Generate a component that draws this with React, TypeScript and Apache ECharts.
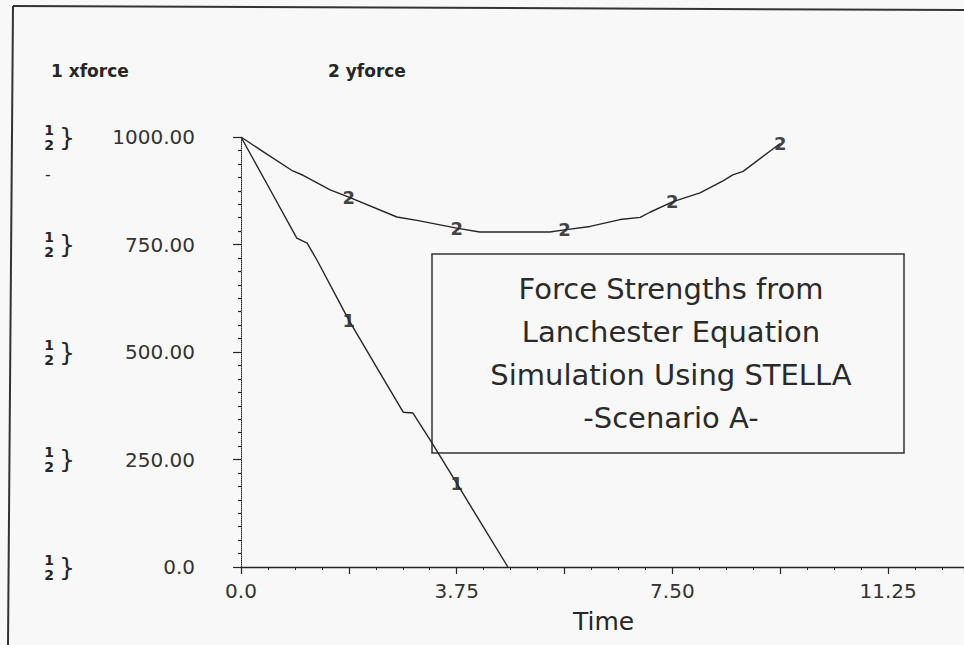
import React, { useEffect, useRef } from "react";
import * as echarts from "echarts";

const times1 = [0, 0.5, 0.97, 1.15, 1.32, 1.875, 2.4, 2.82, 2.99, 3.29, 3.75, 4.2, 4.64];
const xforce = [1000, 879, 765, 753, 714, 574, 455, 360, 358, 295, 195, 96, 0];
const times2 = [0, 0.45, 0.9, 1.08, 1.55, 1.875, 2.71, 3.06, 3.75, 4.15, 5.37, 5.625, 6.07, 6.59, 6.94, 7.11, 7.5, 7.98, 8.38, 8.55, 8.73, 9.375];
const yforce = [1000, 960, 921, 911, 877, 860, 814, 806, 788, 779, 779, 784, 792, 808, 813, 825, 849, 870, 898, 912, 920, 985];

const xTickValues = [0, 3.75, 7.5, 11.25];
const xTickLabels = ["0.0", "3.75", "7.50", "11.25"];
const yTickValues = [0, 250, 500, 750, 1000];
const yTickLabels = ["0.0", "250.00", "500.00", "750.00", "1000.00"];
const legendNames = ["1 xforce", "2 yforce"];
const boxLines = ["Force Strengths from", "Lanchester Equation", "Simulation Using STELLA", "-Scenario A-"];
const xAxisTitle = "Time";
const labelStep = 1.875;
const xVisibleMax = 12.57;

const INK = "#262626";
const FONT = "'DejaVu Sans', sans-serif";

function pick(v: number, vals: number[], labels: string[]) {
  for (let i = 0; i < vals.length; i++) if (Math.abs(v - vals[i]) < 1e-6) return labels[i];
  return "";
}

function pairs(ts: number[], vs: number[]) {
  return ts.map((t, i) => [t, vs[i]]);
}

function markerPoints(ts: number[], vs: number[]) {
  const out: number[][] = [];
  ts.forEach((t, i) => {
    const k = t / labelStep;
    if (t > 0 && Math.abs(k - Math.round(k)) < 1e-6) out.push([t, vs[i]]);
  });
  return out;
}

export default function App() {
  const ref = useRef<HTMLDivElement>(null);
  useEffect(() => {
    if (!ref.current) return;
    const chart = echarts.init(ref.current, undefined, { renderer: "svg" });
    const yBase = { type: "value", min: 0, max: 1000, interval: 250, splitLine: { show: false } };
    const option: any = {
      animation: false,
      backgroundColor: "#f8f8f8",
      grid: { left: 241, top: 137, bottom: 78, right: 0, containLabel: false },
      legend: [
        {
          data: ["xforce"], left: 41, top: 57, icon: "none", itemWidth: 0, itemHeight: 0,
          selectedMode: false, formatter: () => legendNames[0],
          textStyle: { fontFamily: FONT, fontSize: 17, fontWeight: "bold", color: INK },
        },
        {
          data: ["yforce"], left: 318, top: 57, icon: "none", itemWidth: 0, itemHeight: 0,
          selectedMode: false, formatter: () => legendNames[1],
          textStyle: { fontFamily: FONT, fontSize: 17, fontWeight: "bold", color: INK },
        },
      ],
      title: {
        text: xAxisTitle, left: 568, top: 604,
        textStyle: { fontFamily: FONT, fontSize: 25, fontWeight: "normal", color: INK },
      },
      xAxis: {
        type: "value", min: 0, max: xVisibleMax, interval: 1.875,
        axisLine: { lineStyle: { color: INK, width: 1.3 } },
        axisTick: { show: true, length: 7, inside: false, lineStyle: { color: INK, width: 1.2 } },
        minorTick: { show: true, splitNumber: 4, length: 3, lineStyle: { color: INK } },
        splitLine: { show: false },
        axisLabel: {
          margin: 14, fontFamily: FONT, fontSize: 20, color: "#333",
          showMaxLabel: false,
          formatter: (v: number) => pick(v, xTickValues, xTickLabels),
        },
      },
      yAxis: [
        {
          ...yBase,
          axisLine: { show: true, lineStyle: { color: INK, width: 1, type: "dotted" } },
          axisTick: { show: true, length: 8, lineStyle: { color: INK, width: 1.2 } },
          minorTick: { show: true, splitNumber: 8, length: 3, lineStyle: { color: INK, width: 1.2 } },
          axisLabel: {
            margin: 46, fontFamily: FONT, fontSize: 20, color: "#333",
            formatter: (v: number) => pick(v, yTickValues, yTickLabels),
          },
        },
        {
          ...yBase, position: "left", offset: 187,
          axisLine: { show: false }, axisTick: { show: false },
          axisLabel: {
            margin: 0, fontFamily: FONT, fontSize: 14, fontWeight: "bold", color: INK, lineHeight: 15,
            formatter: () => "1\n2",
          },
        },
        {
          ...yBase, position: "left", offset: 166,
          axisLine: { show: false }, axisTick: { show: false },
          axisLabel: {
            margin: 0, fontFamily: FONT, fontSize: 25, color: INK,
            formatter: () => "}",
          },
        },
      ],
      graphic: [
        { type: "line", shape: { x1: 13, y1: 6, x2: 8, y2: 645 }, style: { stroke: "#333", lineWidth: 2 } },
        { type: "line", shape: { x1: 13, y1: 6, x2: 964, y2: 10 }, style: { stroke: "#333", lineWidth: 2 } },
        { type: "text", left: 45, top: 166, style: { text: "-", fontFamily: FONT, fontSize: 16, fill: INK } },
        {
          type: "rect", shape: { x: 432, y: 254, width: 472, height: 199 },
          style: { fill: "none", stroke: "#333", lineWidth: 1.5 },
        },
        {
          type: "text", x: 671, y: 353,
          style: {
            text: boxLines.join("\n"), fontFamily: FONT, fontSize: 29, lineHeight: 43,
            fill: "#2a2a2a", align: "center", verticalAlign: "middle",
          },
        },
      ],
      series: [
        {
          name: "xforce", type: "line", data: pairs(times1, xforce), symbol: "none",
          lineStyle: { color: INK, width: 1.4 }, itemStyle: { color: INK },
        },
        {
          name: "yforce", type: "line", data: pairs(times2, yforce), symbol: "none",
          lineStyle: { color: INK, width: 1.4 }, itemStyle: { color: INK },
        },
        {
          name: "xforce marks", type: "scatter", data: markerPoints(times1, xforce), symbolSize: 1,
          itemStyle: { color: "rgba(0,0,0,0)" },
          label: { show: true, position: "inside", formatter: "1", fontFamily: FONT, fontSize: 18, fontWeight: "bold", color: "#111" },
        },
        {
          name: "yforce marks", type: "scatter", data: markerPoints(times2, yforce), symbolSize: 1,
          itemStyle: { color: "rgba(0,0,0,0)" },
          label: { show: true, position: "inside", formatter: "2", fontFamily: FONT, fontSize: 18, fontWeight: "bold", color: "#111" },
        },
      ],
    };
    chart.setOption(option);
    return () => chart.dispose();
  }, []);
  return <div ref={ref} style={{ position: "fixed", left: 0, top: 0, width: 964, height: 645 }} />;
}
